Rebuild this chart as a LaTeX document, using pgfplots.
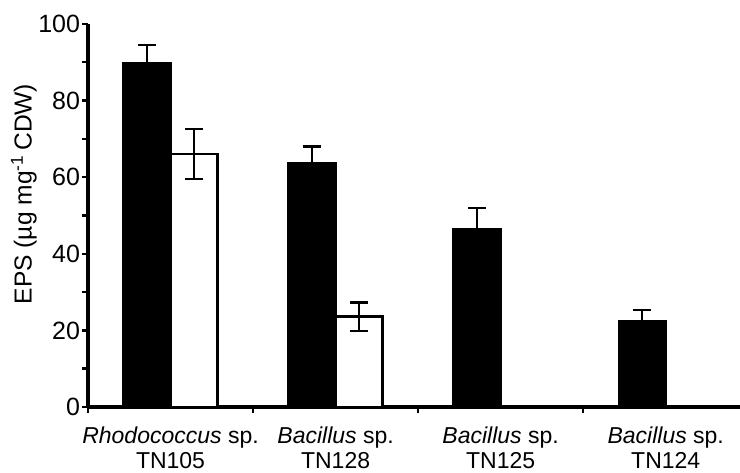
\documentclass[border=0pt]{standalone}
\usepackage{fontspec}
\setmainfont{Liberation Sans}
\usepackage{pgfplots}
\pgfplotsset{compat=1.18}
\begin{document}
\begin{tikzpicture}
\begin{axis}[
  name=ax,
  scale only axis,
  width=326pt, height=191.5pt,
  xmin=-0.5, xmax=3.45,
  ymin=0, ymax=100,
  axis lines*=left,
  axis line style={line width=1.6pt, black},
  ybar=0pt,
  bar width=23.5pt,
  xtick={-0.5,0.5,1.5,2.5},
  xticklabels={},
  extra x ticks={0,1,2,3},
  extra x tick labels={{\textit{Rhodococcus} sp.\\TN105},{\textit{Bacillus} sp.\\TN128},{\textit{Bacillus} sp.\\TN125},{\textit{Bacillus} sp.\\TN124}},
  extra x tick style={major tick length=0pt, tick label style={align=center, font=\fontsize{11.5}{12.5}\selectfont, yshift=-6.5pt}},
  ytick={0,20,...,100},
  minor ytick={10,30,...,90},
  tick align=outside,
  major tick length=2.8pt, minor tick length=2.8pt,
  tick style={line width=1.2pt, black},
  yticklabel style={font=\fontsize{12.5}{14}\selectfont, inner sep=1pt},
  /pgf/number format/assume math mode=true,
  ylabel={EPS (µg mg\textsuperscript{-1}\,CDW)},
  ylabel style={at={(axis description cs:-0.0982,0.556)}, anchor=center, font=\fontsize{12.3}{14}\selectfont},
]
\addplot[fill=black, draw=black, line width=1.2pt,
  error bars/.cd, y dir=both, y explicit,
  error bar style={line width=1.1pt, black},
  error mark options={rotate=90, mark size=4.5pt, line width=1.1pt, black}]
  coordinates {(0,89.7) +- (0,4.8) (1,63.6) +- (0,4.4) (2,46.5) +- (0,5.5) (3,22.5) +- (0,2.8)};
\addplot[fill=white, draw=black, line width=1.2pt,
  error bars/.cd, y dir=both, y explicit,
  error bar style={line width=1.1pt, black},
  error mark options={rotate=90, mark size=4.5pt, line width=1.1pt, black}]
  coordinates {(0,66.0) +- (0,6.5) (1,23.6) +- (0,3.7)};
\end{axis}
\pgfresetboundingbox
\path ([xshift=-44pt,yshift=-32.5pt]ax.south west) rectangle ([yshift=12pt]ax.north east);
\end{tikzpicture}
\end{document}
